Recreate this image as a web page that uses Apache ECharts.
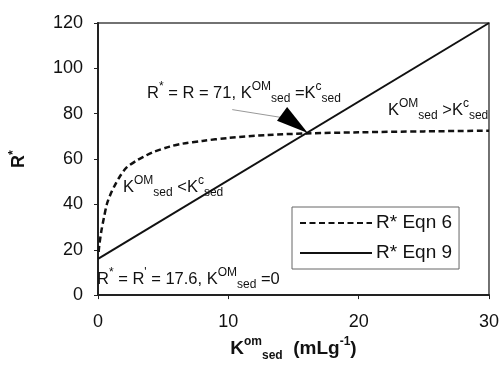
<!DOCTYPE html>
<html>
<head>
<meta charset="utf-8">
<script src="https://cdn.jsdelivr.net/npm/echarts@6/dist/echarts.min.js"></script>
<style>
html, body { margin: 0; padding: 0; background: #fff; }
#chart { width: 502px; height: 367px; }
</style>
</head>
<body>
<div id="chart"></div>
<script>
// values
var eqn6X = [0.05, 0.1, 0.25, 0.45, 0.7, 1.0, 1.3, 1.7, 2.2, 3.0, 3.5, 4.2, 5.5, 6.5, 8, 10, 13, 16, 20, 25, 30];
var eqn6Y = [19, 22, 28, 34, 40.5, 45, 48.5, 52.5, 56.3, 59.5, 61, 63, 65.5, 66.8, 68, 69.3, 70.6, 71.3, 71.8, 72.2, 72.5];
var eqn9X = [0, 30];
var eqn9Y = [16, 120];
var seriesNames = ['R* Eqn 6', 'R* Eqn 9'];
var xTicks = [0, 10, 20, 30];
var yTicks = [0, 20, 40, 60, 80, 100, 120];

var FONT = '"Liberation Sans", Arial, sans-serif';
var rich = {
	m: { fontSize: 16.5, lineHeight: 24, fontFamily: FONT, color: '#111' },
	sp: { fontSize: 12, lineHeight: 11, verticalAlign: 'top', fontFamily: FONT, color: '#111' },
	sb: { fontSize: 12, lineHeight: 11, verticalAlign: 'bottom', fontFamily: FONT, color: '#111' }
};

function pairs(xs, ys) {
	return xs.map(function (x, i) { return [x, ys[i]]; });
}

function note(left, top, text) {
	return { type: 'text', left: left, top: top, z: 10, style: { text: text, rich: rich, fill: '#111' } };
}

var chart = echarts.init(document.getElementById('chart'));
chart.setOption({
	animation: false,
	backgroundColor: '#fff',
	grid: { left: 94, right: 12, top: 23, bottom: 61, show: true, borderColor: '#444', borderWidth: 1.5 },
	legend: {
		orient: 'vertical', left: 292, top: 207,
		data: seriesNames,
		backgroundColor: '#fff', borderColor: '#666', borderWidth: 1,
		padding: [6, 7, 6, 7], itemGap: 10, itemWidth: 72, itemHeight: 20,
		itemStyle: { opacity: 0 },
		textStyle: { fontSize: 19, lineHeight: 20, fontFamily: FONT, color: '#111', padding: [0, 0, 0, -1] }
	},
	xAxis: {
		type: 'value', min: xTicks[0], max: xTicks[xTicks.length - 1], interval: 10,
		name: '{b|K}{bsp|om}{bsb|sed}{b|  (mLg}{bsp|-1}{b|)}',
		nameLocation: 'middle', nameGap: 40,
		nameTextStyle: {
			rich: {
				b: { fontSize: 19, fontWeight: 'bold', lineHeight: 26, fontFamily: FONT, color: '#111' },
				bsp: { fontSize: 12, fontWeight: 'bold', lineHeight: 11, verticalAlign: 'top', fontFamily: FONT, color: '#111' },
				bsb: { fontSize: 12, fontWeight: 'bold', lineHeight: 11, verticalAlign: 'bottom', fontFamily: FONT, color: '#111' }
			}
		},
		axisLine: { lineStyle: { color: '#222', width: 2 } },
		axisTick: { length: 4, lineStyle: { color: '#222' } },
		axisLabel: { fontSize: 18, fontFamily: FONT, color: '#111', margin: 18 },
		splitLine: { show: false }
	},
	yAxis: {
		type: 'value', min: yTicks[0], max: yTicks[yTicks.length - 1], interval: 20,
		name: '{b|R}{bsp|*}',
		nameLocation: 'middle', nameGap: 68,
		nameTextStyle: {
			rich: {
				b: { fontSize: 18, fontWeight: 'bold', lineHeight: 22, fontFamily: FONT, color: '#111' },
				bsp: { fontSize: 12, fontWeight: 'bold', lineHeight: 12, verticalAlign: 'top', fontFamily: FONT, color: '#111' }
			}
		},
		axisLine: { lineStyle: { color: '#222', width: 2 } },
		axisTick: { length: 4, lineStyle: { color: '#222' } },
		axisLabel: { fontSize: 18, fontFamily: FONT, color: '#111', margin: 15 },
		splitLine: { show: false }
	},
	series: [
		{
			name: seriesNames[0], type: 'line', data: pairs(eqn6X, eqn6Y), smooth: 0.3,
			showSymbol: false, symbol: 'none', itemStyle: { color: '#111' },
			lineStyle: { color: '#111', width: 2.5, type: [6, 3.5] },
			markLine: {
				silent: true, animation: false, label: { show: false },
				data: [
					[{ coord: [10.3, 81.8], symbol: 'none', lineStyle: { color: '#999', width: 1, type: 'solid' } },
					 { coord: [14.0, 78.4], symbol: 'none' }],
					[{ coord: [14.17, 79.7], symbol: 'none', lineStyle: { color: '#000', width: 0.5, type: 'solid' } },
					 { coord: [15.11, 75.7], symbol: 'path://M5,0 L10,20 L0,20 Z', symbolSize: [17, 32] }]
				]
			}
		},
		{
			name: seriesNames[1], type: 'line', data: pairs(eqn9X, eqn9Y),
			showSymbol: false, symbol: 'none', itemStyle: { color: '#111' },
			lineStyle: { color: '#111', width: 2 }
		}
	],
	graphic: [
		note(147, 81, '{m|R}{sp|*}{m| = R = 71, K}{sp|OM}{sb|sed}{m| =K}{sp|c}{sb|sed}'),
		note(388, 98, '{m|K}{sp|OM}{sb|sed}{m| >K}{sp|c}{sb|sed}'),
		note(123, 175, '{m|K}{sp|OM}{sb|sed}{m| <K}{sp|c}{sb|sed}'),
		note(97, 267, '{m|R}{sp|*}{m| = R}{sp|\'}{m| = 17.6, K}{sp|OM}{sb|sed}{m| =0}')
	]
});
</script>
</body>
</html>
